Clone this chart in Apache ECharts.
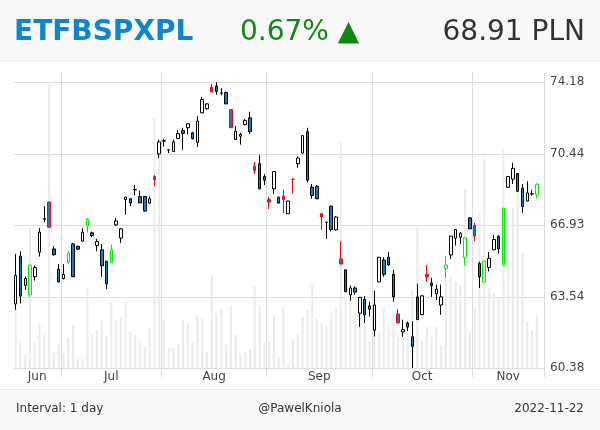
<!DOCTYPE html>
<html><head><meta charset="utf-8">
<script src="https://cdn.jsdelivr.net/npm/echarts@6/dist/echarts.min.js"></script>
<style>html,body{margin:0;padding:0;background:#fff}#c{width:600px;height:430px}</style>
</head><body><div id="c"></div>
<script>
// Trading days (the last November day is an empty slot at the right edge)
const junDays = [17,20,21,22,23,24,27,28,29,30];
const julDays = [1,4,5,6,7,8,11,12,13,14,15,18,19,20,21,22,25,26,27,28,29];
const augDays = [1,2,3,4,5,8,9,10,11,12,16,17,18,19,22,23,24,25,26,29,30,31];
const sepDays = [1,2,5,6,7,8,9,12,13,14,15,16,19,20,21,22,23,26,27,28,29,30];
const octDays = [3,4,5,6,7,10,11,12,13,14,17,18,19,20,21,24,25,26,27,28,31];
const novDays = [2,3,4,7,8,9,10,14,15,16,17,18,21,22,23];
const monthNames = ['Jun','Jul','Aug','Sep','Oct','Nov'];

const open = [63.23,65.44,64.08,63.64,64.48,65.63,67.20,68.04,65.78,64.83,
64.39,65.15,66.02,65.91,66.15,66.88,66.55,65.94,65.74,65.20,
65.15,66.93,66.30,68.16,68.20,68.64,68.31,68.31,67.99,69.30,
70.44,71.09,70.64,70.56,71.22,71.63,71.78,71.52,71.03,72.55,
72.76,73.90,73.97,73.60,73.62,72.73,71.17,71.34,71.95,72.29,
69.82,69.94,69.30,68.16,68.69,68.28,68.33,67.47,69.16,69.94,
70.48,71.57,68.77,68.82,67.47,67.05,67.84,66.69,65.31,64.80,
63.64,63.96,62.81,63.44,63.14,62.04,64.24,65.26,65.39,64.59,
62.77,61.97,62.37,61.75,63.55,62.74,64.59,64.19,63.69,63.18,
64.88,65.50,66.30,66.34,65.39,67.27,66.90,65.10,64.24,64.91,
65.74,66.39,65.03,68.77,69.17,69.45,68.72,68.09,68.44,68.40];
const close = [64.54,63.59,64.40,65.02,64.91,66.58,67.24,66.82,65.51,64.24,
64.59,65.58,64.48,65.77,66.58,67.20,66.42,66.13,64.99,64.15,
65.75,67.12,66.74,68.28,68.00,68.66,68.00,67.60,68.20,69.14,
71.05,71.11,70.65,71.05,71.48,71.48,71.98,71.22,72.12,73.25,
73.02,73.65,73.68,73.59,73.02,71.78,71.60,71.43,72.15,71.57,
69.61,68.69,69.12,68.04,69.55,67.99,68.16,68.09,69.17,70.23,
71.37,69.12,68.36,68.20,67.31,67.06,66.71,67.31,65.07,63.79,
63.96,63.77,63.53,62.74,62.99,63.18,65.39,64.59,65.03,63.55,
62.37,62.07,62.19,61.33,62.52,63.60,64.48,64.07,63.91,63.55,
65.02,66.39,66.71,66.53,66.31,66.74,66.39,64.48,65.20,65.34,
66.23,65.78,67.74,69.30,69.71,68.57,67.82,68.49,68.45,68.91];
const low = [62.96,63.26,63.87,63.53,64.30,65.42,67.06,66.80,65.46,64.22,
64.35,65.07,64.46,65.75,66.13,66.55,66.34,65.67,64.48,63.91,
65.13,66.88,66.07,67.42,67.84,68.36,67.99,67.58,67.95,68.82,
70.23,70.82,70.48,70.55,71.21,70.65,71.43,71.17,70.79,72.54,
72.73,73.64,73.50,73.47,73.01,71.77,71.16,70.91,71.89,71.46,
69.42,68.67,68.88,67.71,68.44,67.97,67.50,67.46,68.44,69.74,
70.46,69.01,68.20,68.19,66.69,66.26,66.61,66.66,65.06,63.78,
63.38,63.64,62.19,62.37,62.66,61.77,64.23,64.48,64.99,63.33,
62.36,61.75,62.00,60.38,62.51,62.73,64.24,63.55,63.41,62.74,
64.40,65.31,65.94,66.02,64.99,66.73,66.15,63.96,64.23,64.72,
65.73,65.55,65.01,68.74,68.93,68.56,67.52,68.08,68.36,68.20];
const high = [65.55,65.67,64.50,65.05,64.99,66.77,67.84,68.06,65.91,65.07,
65.07,65.67,66.07,65.93,66.77,67.27,66.61,66.26,66.02,65.22,
65.99,67.25,66.77,68.29,68.23,68.88,68.60,68.32,68.33,69.37,
71.17,71.20,70.66,71.17,71.65,71.78,72.03,71.57,72.38,73.39,
73.07,74.08,74.16,73.85,73.68,72.74,71.86,71.52,72.24,72.61,
70.02,70.39,69.42,68.28,69.56,68.30,68.65,68.10,69.18,70.31,
71.40,71.78,68.93,68.88,67.52,67.07,67.86,67.36,66.15,64.82,
64.08,64.03,63.54,63.59,63.33,63.83,65.40,65.39,65.63,64.80,
62.99,62.52,62.44,62.44,64.16,63.61,65.03,64.43,64.11,64.11,
65.44,66.40,66.74,66.58,66.34,67.30,67.03,65.18,65.22,65.63,
66.45,66.42,67.76,69.33,69.99,69.46,68.93,69.06,68.64,68.98];
const volume = [60,25,13,140,26,44,33,286,15,23,
15,31,43,9,9,80,34,38,48,32,
67,48,51,66,36,33,25,21,40,250,
225,49,20,20,24,48,44,26,53,49,
16,92,54,59,23,62,34,14,16,19,
81,62,25,26,52,10,61,4,29,34,
51,58,85,50,44,41,55,60,225,94,
78,55,63,46,26,66,36,61,41,55,
31,30,35,78,141,26,41,31,41,23,
88,90,87,83,179,36,60,155,209,80,
75,70,219,150,160,193,115,46,38,53];
const redSignal = [7,29,41,45,50,53,56,58,64,68,80,86,96];
const greenSignal = [3,11,15,20,90,94,98,102,109];
const yTicks = [60.38,63.54,66.93,70.44,74.18];

const ticker = 'ETFBSPXPL', changeText = '0.67% ▲', priceText = '68.91 PLN';
const intervalText = 'Interval: 1 day', authorText = '@PawelKniola', dateText = '2022-11-22';

const months = [junDays,julDays,augDays,sepDays,octDays,novDays];
const dates = [], monthOf = [];
months.forEach((days, m) => days.forEach(d => {
  dates.push('2022-' + String(m + 6).padStart(2,'0') + '-' + String(d).padStart(2,'0'));
  monthOf.push(m);
}));
// label index per month (middle of the month); shift for even-length months
const labelAt = {};
let start = 0;
months.forEach((days, m) => {
  const n = days.length;
  labelAt[start + Math.floor((n - 1) / 2)] = {m: m, even: n % 2 === 0};
  start += n;
});

const BLUE = '#167cc4';
const candles = open.map((o, i) => {
  const item = {value: [o, close[i], low[i], high[i]]};
  if (redSignal.includes(i)) item.itemStyle = {borderColor: '#ff0000', borderColor0: '#ff0000'};
  if (greenSignal.includes(i)) item.itemStyle = {borderColor: '#00ee00', borderColor0: '#00ee00'};
  return item;
});

const FONT = 'DejaVu Sans';
const chart = echarts.init(document.getElementById('c'), null, {renderer: 'canvas'});
const L = 13.3, R = 56;
chart.setOption({
  animation: false,
  backgroundColor: '#ffffff',
  graphic: [
    {type: 'rect', shape: {x: 0, y: 0, width: 600, height: 60}, style: {fill: '#f8f8f8'}, z: -10},
    {type: 'line', shape: {x1: 0, y1: 60.5, x2: 600, y2: 60.5}, style: {stroke: '#e8e8e8', lineWidth: 1}, z: -10},
    {type: 'rect', shape: {x: 0, y: 390, width: 600, height: 40}, style: {fill: '#f8f8f8'}, z: -10},
    {type: 'line', shape: {x1: 0, y1: 389.5, x2: 600, y2: 389.5}, style: {stroke: '#e8e8e8', lineWidth: 1}, z: -10},
    {type: 'text', x: 14, y: 33, style: {text: ticker, font: 'bold 28px "' + FONT + '"', fill: '#0e86ce', verticalAlign: 'middle', align: 'left'}},
    {type: 'text', x: 240, y: 33, style: {text: changeText, font: '28px "' + FONT + '"', fill: '#0f8a0f', verticalAlign: 'middle', align: 'left'}},
    {type: 'text', x: 585, y: 33, style: {text: priceText, font: '28px "' + FONT + '"', fill: '#333333', verticalAlign: 'middle', align: 'right'}},
    {type: 'text', x: 16, y: 409, style: {text: intervalText, font: '12px "' + FONT + '"', fill: '#333333', verticalAlign: 'middle', align: 'left'}},
    {type: 'text', x: 300, y: 409, style: {text: authorText, font: '12px "' + FONT + '"', fill: '#333333', verticalAlign: 'middle', align: 'center'}},
    {type: 'text', x: 584, y: 409, style: {text: dateText, font: '12px "' + FONT + '"', fill: '#333333', verticalAlign: 'middle', align: 'right'}}
  ],
  grid: [
    {left: L, right: R, top: 72, bottom: 430 - 377},
    {left: L, right: R, top: 82, bottom: 430 - 368}
  ],
  xAxis: [
    {type: 'category', gridIndex: 0, data: dates, boundaryGap: true,
     axisLine: {show: false}, axisTick: {show: false},
     splitLine: {show: true, interval: (i) => i > 0 && monthOf[i] !== monthOf[i - 1], lineStyle: {color: '#dddddd', width: 1}},
     axisLabel: {interval: (i) => labelAt[i] !== undefined, margin: 0, verticalAlign: 'middle',
       color: '#444444', fontSize: 12, fontFamily: FONT,
       formatter: (v, i) => { const o = labelAt[i]; return o.even ? '{e|' + monthNames[o.m] + '}' : '{o|' + monthNames[o.m] + '}'; },
       rich: {e: {padding: [0, 0, 0, 4.78], color: '#444444', fontSize: 12, fontFamily: FONT}, o: {color: '#444444', fontSize: 12, fontFamily: FONT}}}},
    {type: 'category', gridIndex: 1, data: dates, boundaryGap: true, show: false}
  ],
  yAxis: [
    {type: 'log', gridIndex: 1, position: 'right', min: yTicks[0], max: yTicks[yTicks.length - 1], logBase: 10,
     axisLine: {show: false}, axisTick: {show: false, customValues: yTicks},
     axisLabel: {customValues: yTicks, formatter: (v) => Number(v).toFixed(2), margin: 6, color: '#444444', fontSize: 12, fontFamily: FONT},
     splitLine: {show: true, lineStyle: {color: '#dddddd', width: 1}}},
    {type: 'value', gridIndex: 1, min: 0, max: 'dataMax', show: false, splitLine: {show: false}},
    {type: 'value', gridIndex: 0, show: false, splitLine: {show: false}}
  ],
  series: [
    {type: 'bar', xAxisIndex: 1, yAxisIndex: 1, data: volume, barWidth: 2, silent: true,
     itemStyle: {color: '#ebebeb'}, z: 1},
    {type: 'candlestick', xAxisIndex: 1, yAxisIndex: 0, data: candles, barWidth: 3, z: 5,
     itemStyle: {color: '#ffffff', color0: BLUE, borderColor: '#000000', borderColor0: '#000000', borderWidth: 1}}
  ]
});
</script></body></html>
